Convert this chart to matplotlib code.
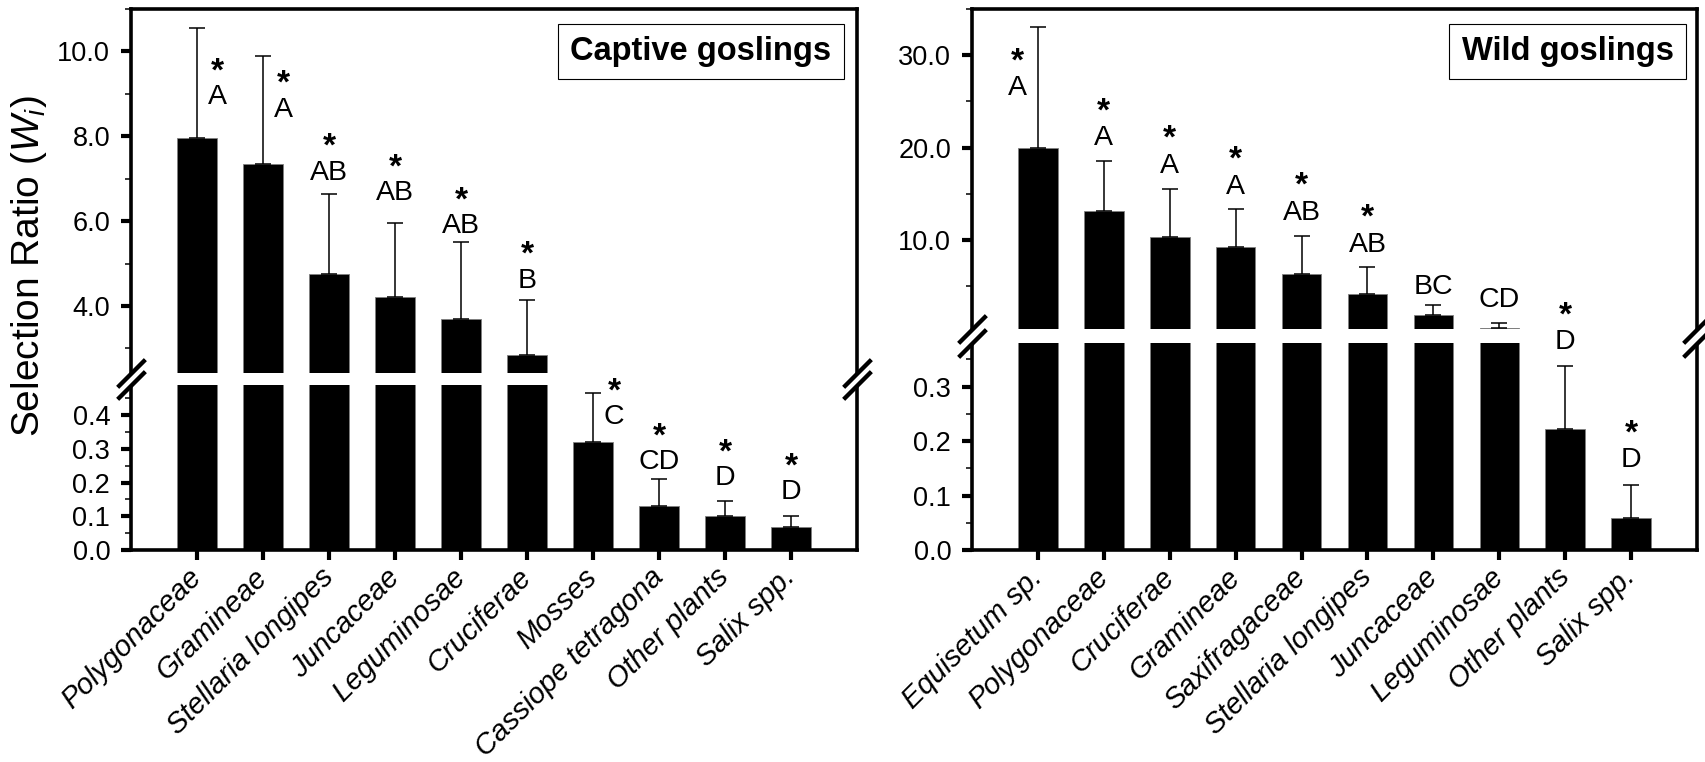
import numpy as np
import matplotlib
matplotlib.use('Agg')
import matplotlib.pyplot as plt
from matplotlib.patches import Rectangle
from matplotlib.transforms import ScaledTranslation

plt.rcParams['font.family'] = 'Liberation Sans'
plt.rcParams['mathtext.fontset'] = 'custom'
plt.rcParams['mathtext.rm'] = 'Liberation Sans'
plt.rcParams['mathtext.it'] = 'Liberation Sans:italic'

# captive goslings: selection ratio (Wi) and SE
cap_taxa = ['Polygonaceae', 'Gramineae', 'Stellaria longipes', 'Juncaceae', 'Leguminosae',
            'Cruciferae', 'Mosses', 'Cassiope tetragona', 'Other plants', 'Salix spp.']
cap_wi = [7.95, 7.35, 4.75, 4.2, 3.7, 2.85, 0.32, 0.13, 0.10, 0.068]
cap_se = [2.6, 2.55, 1.9, 1.75, 1.8, 1.3, 0.145, 0.08, 0.045, 0.032]
cap_letters = ['A', 'A', 'AB', 'AB', 'AB', 'B', 'C', 'CD', 'D', 'D']
cap_star = [True] * 10

# wild goslings
wild_taxa = ['Equisetum sp.', 'Polygonaceae', 'Cruciferae', 'Gramineae', 'Saxifragaceae',
             'Stellaria longipes', 'Juncaceae', 'Leguminosae', 'Other plants', 'Salix spp.']
wild_wi = [20.0, 13.15, 10.4, 9.3, 6.35, 4.2, 1.87, 0.5, 0.222, 0.059]
wild_se = [13.0, 5.4, 5.15, 4.1, 4.1, 2.9, 1.08, 0.6, 0.115, 0.06]
wild_letters = ['A', 'A', 'A', 'A', 'AB', 'AB', 'BC', 'CD', 'D', 'D']
wild_star = [True, True, True, True, True, True, False, False, True, True]


def broken_scale(lo_top, hi_bot, top, f_lo, f_hi):
    # piecewise linear axis: [0, lo_top] and [hi_bot, top] with a squeezed gap between
    d = [0.0, lo_top, hi_bot, top]
    f = [0.0, f_lo, f_hi, 1.0]
    s0 = f_lo / lo_top
    s1 = (1 - f_hi) / (top - hi_bot)
    d = [-1e6] + d + [top + 1e6]
    f = [-1e6 * s0] + f + [1 + 1e6 * s1]
    fwd = lambda y: np.interp(y, d, f)
    inv = lambda v: np.interp(v, f, d)
    return fwd, inv


def panel(ax, taxa, wi, se, letters, star, brk, yticks, yminor,
          lab_dx, lab_dy, star_gap, title, title_x):
    lo_top, hi_bot, top = brk[:3]
    fwd, inv = broken_scale(*brk)
    ax.set_yscale('function', functions=(fwd, inv))
    x = np.arange(len(taxa))
    ax.bar(x, wi, width=0.6, color='black', edgecolor='#808080', linewidth=0.6, zorder=2)
    ax.errorbar(x, wi, yerr=[np.zeros(len(se)), se], fmt='none', ecolor='black',
                elinewidth=1.1, capsize=5.5, capthick=1.1, zorder=2.2)
    ax.set_xlim(-1, 10)
    ax.set_ylim(0, top)
    ax.set_yticks(yticks)
    ax.set_yticklabels(['%.1f' % t for t in yticks])
    ax.set_yticks(yminor, minor=True)
    ax.set_xticks(x)
    ax.set_xticklabels(taxa, rotation=45, ha='right', va='center', rotation_mode='anchor',
                       fontstyle='italic', fontsize=21)
    shift = ScaledTranslation(9 / 72, 0, ax.figure.dpi_scale_trans)
    for lbl in ax.get_xticklabels():
        lbl.set_transform(lbl.get_transform() + shift)
    for s in ax.spines.values():
        s.set_linewidth(2.6)
    ax.tick_params(axis='y', which='major', length=7, width=3.0, labelsize=19.5, pad=8)
    ax.tick_params(axis='y', which='minor', length=4.5, width=1.1)
    ax.tick_params(axis='x', which='major', length=7, width=3.0, pad=9.5)

    # white gap across bars and spines, with // marks on both sides
    ax.add_patch(Rectangle((-0.012, lo_top), 1.024, hi_bot - lo_top,
                           transform=ax.get_yaxis_transform(), facecolor='white',
                           edgecolor='none', clip_on=False, zorder=3))
    for xs in (0, 1):
        ax.plot([xs, xs], [lo_top, hi_bot], linestyle='none', marker=(2, 2, -45),
                markersize=28, markeredgewidth=2.8, color='black',
                transform=ax.get_yaxis_transform(), clip_on=False, zorder=4)

    # significance letters and stars above the error bars
    for i in range(len(taxa)):
        tip = wi[i] + se[i]
        ax.annotate(letters[i], xy=(i, tip), xytext=(lab_dx[i], lab_dy[i] - 10),
                    textcoords='offset pixels', ha='center', va='baseline',
                    fontsize=20.5, zorder=6, annotation_clip=False)
        if star[i]:
            ax.annotate('*', xy=(i, tip), xytext=(lab_dx[i], lab_dy[i] + star_gap - 18),
                        textcoords='offset pixels', ha='center', va='baseline',
                        fontsize=24, fontweight='bold', zorder=6, annotation_clip=False)

    ax.text(title_x, 0.921, title, transform=ax.transAxes, ha='center', va='center',
            fontsize=23.5, fontweight='bold', zorder=6,
            bbox=dict(boxstyle='square,pad=0.37', fc='white', ec='black', lw=0.8))


fig = plt.figure(figsize=(17.05, 7.62), dpi=100)
ax1 = fig.add_axes([131 / 1705, 212 / 762, 726 / 1705, 541 / 762])
ax2 = fig.add_axes([972 / 1705, 212 / 762, 725 / 1705, 541 / 762])

panel(ax1, cap_taxa, cap_wi, cap_se, cap_letters, cap_star,
      (0.49, 2.42, 11.0, 165 / 541, 177 / 541),
      [0.0, 0.1, 0.2, 0.3, 0.4, 4.0, 6.0, 8.0, 10.0],
      [0.05, 0.15, 0.25, 0.35, 0.45, 3, 5, 7, 9, 11],
      [20, 20, 0, 0, 0, 0, 21, 0, 0, 0],
      [-66, -51, 24, 33, 19, 22, -21, 20, 26, 27], 32,
      'Captive goslings', 0.785)

panel(ax2, wild_taxa, wild_wi, wild_se, wild_letters, wild_star,
      (0.38, 0.40, 35.0, 207 / 541, 221 / 541),
      [0.0, 0.1, 0.2, 0.3, 10.0, 20.0, 30.0],
      [0.05, 0.15, 0.25, 0.35, 5, 15, 25, 35],
      [-20, 0, 0, 0, 0, 0, 0, 0, 0, 0],
      [-58, 26, 26, 25, 26, 25, 21, 26, 27, 28], 33,
      'Wild goslings', 0.8214)

fig.text(29.5 / 1705, 1 - 266 / 762, r'Selection Ratio ($W_i$)', rotation=90,
         ha='center', va='center', fontsize=28)

fig.savefig('out.png', dpi=100)
